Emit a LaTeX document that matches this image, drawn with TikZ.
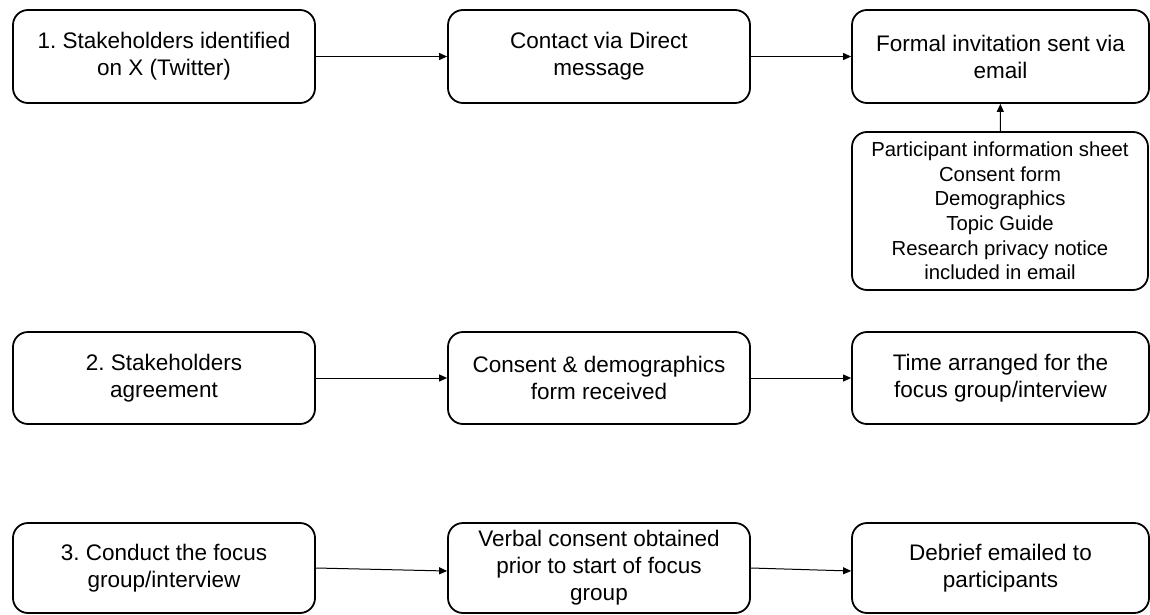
\documentclass[tikz,border=0pt]{standalone}
\usepackage{fontspec}
\setmainfont{Liberation Sans}
\usetikzlibrary{arrows.meta}
\frenchspacing
\begin{document}
\begin{tikzpicture}[x=1pt,y=-1pt,
  stepbox/.style={draw=black, line width=1.8pt, rounded corners=15pt, fill=white,
    align=center, inner sep=4pt, font=\fontsize{22.5}{27}\selectfont},
  wide/.style={minimum width=302pt, minimum height=93pt},
  flow/.style={draw=black, line width=1pt, -{Triangle[length=8pt,width=7pt]}}]
\useasboundingbox (0,0) rectangle (1150,615);

% row 1
\node[stepbox, wide] (b11) at (164,56.5) {1. Stakeholders identified\\on X (Twitter)};
\node[stepbox, wide] (b12) at (599,56.5) {Contact via Direct\\message};
\node[stepbox, wide, minimum width=297pt] (b13) at (1000.5,56.5) {Formal invitation sent via\\email};
\node[stepbox, minimum width=296pt, minimum height=158pt,
  font=\fontsize{20.3}{24.6}\selectfont] (info) at (1000,211)
  {Participant information sheet\\Consent form\\Demographics\\Topic Guide\\Research privacy notice\\included in email};

% row 2
\node[stepbox, wide, minimum height=92pt] (b21) at (164,378) {2. Stakeholders\\agreement};
\node[stepbox, wide, minimum height=92pt] (b22) at (599,378) {Consent \& demographics\\form received};
\node[stepbox, wide, minimum height=92pt, minimum width=297pt] (b23) at (1000.5,378) {Time arranged for the\\focus group/interview};

% row 3
\node[stepbox, wide, minimum height=90pt] (b31) at (164,568) {3. Conduct the focus\\group/interview};
\node[stepbox, wide, minimum height=90pt] (b32) at (599,568) {Verbal consent obtained\\prior to start of focus\\group};
\node[stepbox, wide, minimum height=90pt, minimum width=297pt] (b33) at (1000.5,568) {Debrief emailed to\\participants};

% connectors
\draw[flow] (b11) -- (b12);
\draw[flow] (b12) -- (b13);
\draw[flow] (info) -- (b13);
\draw[flow] (b21) -- (b22);
\draw[flow] (b22) -- (b23);
\draw[flow] (b31.east) -- ([yshift=-3pt]b32.west);
\draw[flow] (b32.east) -- ([yshift=-3pt]b33.west);
\end{tikzpicture}
\end{document}
